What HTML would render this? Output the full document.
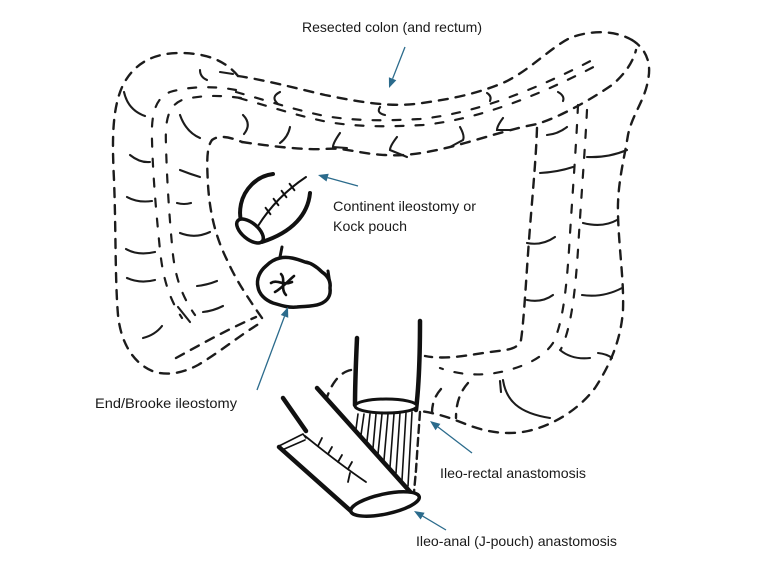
<!DOCTYPE html>
<html>
<head>
<meta charset="utf-8">
<style>
html,body{margin:0;padding:0;background:#fff;}
svg{display:block;}
text{font-family:"Liberation Sans",Arial,sans-serif;font-size:14px;fill:#1a1a1a;}
</style>
</head>
<body>
<svg width="760" height="572" viewBox="0 0 760 572" xmlns="http://www.w3.org/2000/svg">
<rect width="760" height="572" fill="#fff"/>

<!-- ===== Dashed colon ===== -->
<g fill="none" stroke="#1c1c1c" stroke-width="2.4" stroke-linecap="round" stroke-dasharray="9 8">
  <!-- ascending outer + cecum -->
  <path d="M 238,76 C 225,60 205,53 180,53 C 155,53 135,62 123,85 C 112,108 112,140 114,180 C 116,230 115,280 118,315 C 121,345 135,365 155,372 C 170,376 185,372 198,365 C 220,352 240,335 262,322"/>
  <path d="M 176,358 C 198,346 224,331 256,317"/>
  <!-- ascending inner -->
  <path d="M 262,318 C 248,298 236,280 228,262 C 216,238 210,215 208,185 C 207,165 206,148 212,140 C 220,134 232,138 242,142"/>

  <!-- transverse upper -->
  <path d="M 238,76 C 265,80 295,88 325,95 C 355,101 385,107 415,104 C 445,100 475,95 505,82 C 530,70 550,48 570,38 C 590,30 615,30 632,40"/>
  <!-- transverse lower -->
  <path d="M 242,142 C 270,146 300,150 325,149 C 345,147 360,154 385,155 C 410,157 440,150 465,143 C 490,136 515,128 537,124 C 560,117 590,100 612,85 C 625,74 633,62 636,50"/>

  <!-- descending outer -->
  <path d="M 632,40 C 645,48 652,62 648,80 C 645,100 632,115 628,135 C 624,160 617,185 618,215 C 619,250 624,280 623,310 C 621,340 610,365 595,388 C 580,408 555,425 528,431 C 505,436 482,431 463,423 C 448,417 435,413 420,411"/>
  <!-- descending inner -->
  <path d="M 537,128 C 536,160 532,200 529,240 C 526,280 524,320 521,340 C 518,350 505,350 490,352 C 470,355 445,360 425,356"/>

  <!-- rectum extras -->
  <path d="M 351,370 C 340,372 332,383 327,397"/>
  <path d="M 468,383 C 460,392 456,403 456,418"/>
  <path d="M 441,389 C 434,397 432,405 432,413"/>
  <path d="M 420,412 L 418,440 L 416,470 L 414,492" stroke-dasharray="8 5"/>
</g>

<!-- sparse double lines (taenia) -->
<g fill="none" stroke="#1c1c1c" stroke-width="2.2" stroke-linecap="round" stroke-dasharray="8 12">
  <path d="M 236,90 C 215,86 190,86 170,92 C 155,98 151,115 152,140 C 153,180 157,220 160,250 C 163,280 170,300 182,318"/>
  <path d="M 241,98 C 220,95 200,95 182,100 C 168,106 165,120 166,145 C 167,185 170,225 173,255 C 176,280 183,298 195,315"/>
  <path d="M 236,92 C 265,100 295,110 325,116 C 355,121 385,121 420,119 C 450,116 480,108 510,97 C 540,86 570,72 600,56"/>
  <path d="M 239,98 C 268,106 298,116 328,122 C 358,127 388,127 423,125 C 453,122 483,114 513,103 C 543,92 573,78 603,62"/>
  <path d="M 578,105 C 576,150 572,200 569,250 C 566,295 562,325 553,343 C 543,358 525,366 505,371 C 485,376 462,376 440,368"/>
  <path d="M 587,110 C 585,150 581,200 578,250 C 575,295 571,328 561,349"/>
</g>

<!-- haustra (short solid arcs) -->
<g fill="none" stroke="#1c1c1c" stroke-width="2.1" stroke-linecap="round">
  <path d="M 124,92 Q 128,110 145,116"/>
  <path d="M 130,155 Q 140,163 150,162"/>
  <path d="M 127,197 Q 138,203 152,201"/>
  <path d="M 126,249 Q 138,256 155,252"/>
  <path d="M 127,278 Q 140,284 155,280"/>
  <path d="M 143,338 Q 155,335 162,326"/>
  <path d="M 180,115 Q 186,132 200,138"/>
  <path d="M 180,170 Q 190,174 200,177"/>
  <path d="M 177,203 Q 184,205 191,203"/>
  <path d="M 180,233 Q 195,239 210,232"/>
  <path d="M 197,286 Q 207,285 217,281"/>
  <path d="M 203,312 Q 213,311 223,306"/>
  <path d="M 178,307 L 190,322"/>
  <path d="M 200,70 Q 200,77 207,80"/>
  <path d="M 220,72 L 233,74"/>
  <!-- transverse -->
  <path d="M 280,92 Q 270,97 278,104"/>
  <path d="M 243,115 Q 252,124 244,134"/>
  <path d="M 290,127 Q 288,137 280,143"/>
  <path d="M 340,133 Q 333,143 333,147 L 347,148"/>
  <path d="M 397,137 Q 390,146 390,150 L 407,157"/>
  <path d="M 460,127 Q 465,136 463,140 L 450,147"/>
  <path d="M 503,118 Q 497,126 497,130 L 510,130"/>
  <path d="M 380,107 Q 376,113 385,115"/>
  <path d="M 487,93 Q 492,96 490,101"/>
  <path d="M 558,92 Q 565,96 563,101"/>
  <path d="M 547,135 Q 558,134 567,127"/>
  <!-- descending -->
  <path d="M 540,173 Q 558,172 573,167"/>
  <path d="M 527,243 Q 542,246 555,237"/>
  <path d="M 527,300 Q 542,303 553,295"/>
  <path d="M 587,157 Q 608,158 627,150"/>
  <path d="M 583,223 Q 603,228 617,220"/>
  <path d="M 582,295 Q 603,298 622,288"/>
  <path d="M 560,350 Q 572,360 590,358"/>
  <path d="M 598,353 Q 607,354 612,358"/>
  <path d="M 503,380 C 506,400 518,413 550,418"/>
  <path d="M 500,381 L 501,392"/>
</g>

<!-- ===== Kock pouch ===== -->
<g fill="none" stroke="#111" stroke-linecap="round">
  <path d="M 273,174 C 256,176 244,190 241,204 C 239,214 240,221 244,226" stroke-width="4"/>
  <path d="M 310,193 C 308,214 293,232 262,242" stroke-width="4"/>
  <ellipse cx="250" cy="231" rx="16" ry="8" transform="rotate(40 250 231)" fill="#fff" stroke-width="3.5"/>
  <path d="M 258,226 C 268,210 282,193 306,177" stroke-width="2"/>
  <path d="M 265.6,207.8 L 270.4,214.2 M 273.6,198.8 L 278.4,205.2 M 281.6,190.8 L 286.4,197.2 M 289.6,183.8 L 294.4,190.2" stroke-width="2"/>
</g>

<!-- ===== Brooke ileostomy ===== -->
<g fill="none" stroke="#111" stroke-linecap="round" stroke-linejoin="round">
  <path d="M 280,258 C 288,256 297,259 305,262 C 312,263 318,268 322,272 C 328,276 331,281 330,288 C 331,295 328,301 320,304 C 312,307 304,306 297,307 C 288,308 280,305 273,303 C 265,300 259,294 258,287 C 256,279 260,271 266,266 C 271,261 275,259 280,258 Z" stroke-width="3.5"/>
  <path d="M 282,247 L 280,257" stroke-width="3"/>
  <path d="M 328,271 L 330,284" stroke-width="3"/>
  <path d="M 271,283 C 277,279 283,286 292,282" stroke-width="2.6"/>
  <path d="M 281,274 C 286,279 280,289 286,295" stroke-width="2.6"/>
  <path d="M 275,292 C 282,288 288,281 294,276" stroke-width="2.6"/>
</g>

<!-- ===== Ileo-rectal (U tube) and hatch ===== -->
<g fill="none" stroke="#111" stroke-linecap="round">
  <g stroke-width="1.6">
    <path d="M 358,414 L 356,429"/>
    <path d="M 364,414 L 361,435"/>
    <path d="M 370,414 L 367,441"/>
    <path d="M 376,414 L 373,448"/>
    <path d="M 382,414 L 378,454"/>
    <path d="M 388,414 L 384,460"/>
    <path d="M 394,414 L 390,467"/>
    <path d="M 400,413 L 396,473"/>
    <path d="M 406,413 L 402,480"/>
    <path d="M 412,412 L 408,486"/>
  </g>
  <path d="M 357,338 C 356,360 355,385 355,405" stroke-width="4.5"/>
  <path d="M 420,321 C 420,350 419,385 416,410" stroke-width="4.5"/>
  <ellipse cx="386" cy="406" rx="31" ry="7" fill="#fff" stroke-width="3"/>
</g>

<!-- ===== J-pouch ===== -->
<g fill="none" stroke="#111" stroke-linecap="round" stroke-linejoin="round">
  <path d="M 317,388 L 413,495" stroke-width="4.5"/>
  <path d="M 283,398 L 306,431" stroke-width="4.5"/>
  <path d="M 279,447 L 352,512" stroke-width="4.5"/>
  <path d="M 279,446 L 303,434 L 306,438" stroke-width="1.6"/>
  <path d="M 282,450 L 305,440" stroke-width="1.6"/>
  <ellipse cx="385" cy="504" rx="35" ry="10" transform="rotate(-12 385 504)" fill="#fff" stroke-width="3.5"/>
  <path d="M 305,436 C 320,448 338,463 366,482" stroke-width="1.8"/>
  <path d="M 318,446 L 322,438 M 328,454 L 332,447 M 338,462 L 342,455 M 348,469 L 352,462" stroke-width="1.8"/>
  <path d="M 350,473 L 348,482" stroke-width="1.8"/>
</g>

<!-- ===== Arrows ===== -->
<g stroke="#2b6b8c" stroke-width="1.3" fill="none">
  <line x1="405" y1="47" x2="392.6" y2="78.7"/>
  <line x1="358" y1="186" x2="327.6" y2="177.6"/>
  <line x1="257" y1="390" x2="284.5" y2="316.4"/>
  <line x1="472" y1="453" x2="438" y2="427"/>
  <line x1="446" y1="530" x2="422.6" y2="516.1"/>
</g>
<g fill="#2b6b8c">
  <polygon points="389,88 396.3,80.2 388.9,77.2"/>
  <polygon points="318,175 328.7,173.8 326.5,181.5"/>
  <polygon points="288,307 288.25,317.8 280.75,315"/>
  <polygon points="430,421 440.4,423.9 435.5,430.2"/>
  <polygon points="414,511 424.6,512.7 420.6,519.5"/>
</g>

<!-- ===== Labels ===== -->
<text x="302" y="32" textLength="180" lengthAdjust="spacingAndGlyphs">Resected colon (and rectum)</text>
<text x="333" y="211" textLength="143" lengthAdjust="spacingAndGlyphs">Continent ileostomy or</text>
<text x="333" y="231" textLength="74" lengthAdjust="spacingAndGlyphs">Kock pouch</text>
<text x="95" y="408" textLength="142" lengthAdjust="spacingAndGlyphs">End/Brooke ileostomy</text>
<text x="440" y="478" textLength="146" lengthAdjust="spacingAndGlyphs">Ileo-rectal anastomosis</text>
<text x="416" y="546" textLength="201" lengthAdjust="spacingAndGlyphs">Ileo-anal (J-pouch) anastomosis</text>
</svg>
</body>
</html>
